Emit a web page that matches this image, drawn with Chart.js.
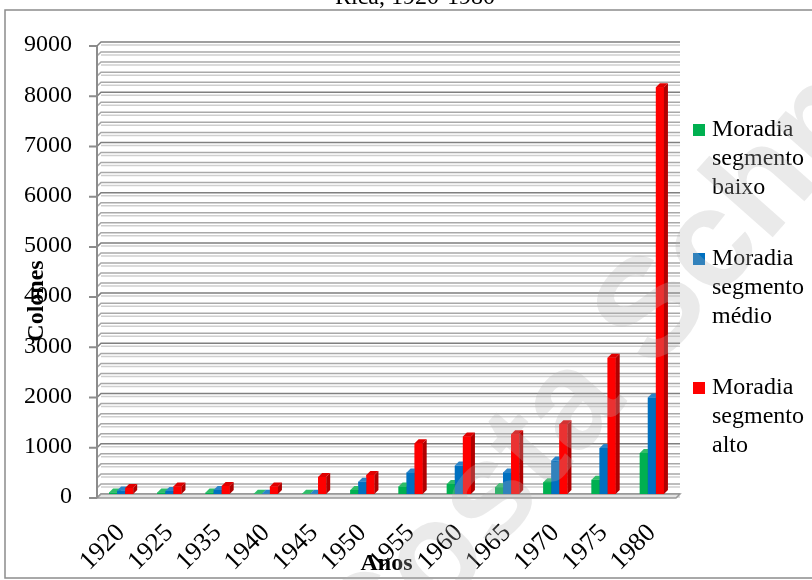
<!DOCTYPE html>
<html>
<head>
<meta charset="utf-8">
<script src="https://cdn.jsdelivr.net/npm/chart.js@4.4.1/dist/chart.umd.min.js"></script>
<style>
html, body { margin: 0; padding: 0; background: #fff; }
#wrap { position: relative; width: 812px; height: 580px; }
</style>
</head>
<body>
<div id="wrap"><canvas id="chart" width="812" height="580"></canvas></div>
<script>
// dados
const anos = ['1920', '1925', '1935', '1940', '1945', '1950', '1955', '1960', '1965', '1970', '1975', '1980'];
const segBaixo = [30, 30, 30, 5, 5, 80, 150, 200, 135, 235, 285, 815];
const segMedio = [70, 60, 80, 5, 5, 245, 430, 565, 430, 665, 915, 1920];
const segAlto = [120, 150, 160, 150, 340, 380, 1010, 1145, 1190, 1390, 2715, 8100];
const nomes = [['Moradia', 'segmento', 'baixo'], ['Moradia', 'segmento', 'médio'], ['Moradia', 'segmento', 'alto']];
const yTicks = [0, 1000, 2000, 3000, 4000, 5000, 6000, 7000, 8000, 9000];

const cores = ['#00b050', '#0070c0', '#ff0000'];
const coresLado = ['#007a38', '#004d86', '#b00000'];
const coresTopo = ['#2ebd68', '#2a84c8', '#e00000'];
const serif = '"Liberation Serif", "Times New Roman", serif';
const D = 4; // profundidade 3D

const frame3d = {
    id: 'frame3d',
    beforeDraw(chart) {
        const ctx = chart.ctx;
        ctx.save();
        ctx.fillStyle = '#fff';
        ctx.fillRect(0, 0, chart.width, chart.height);
        ctx.strokeStyle = '#8c8c8c';
        ctx.lineWidth = 1.5;
        ctx.strokeRect(5, 10, 820, 568);
        ctx.fillStyle = '#000';
        ctx.font = '24px ' + serif;
        ctx.textAlign = 'center';
        ctx.textBaseline = 'alphabetic';
        ctx.fillText('Rica, 1920-1980', 415, 4);
        ctx.restore();
    },
    beforeDatasetsDraw(chart) {
        const ctx = chart.ctx, a = chart.chartArea, ys = chart.scales.y;
        ctx.save();
        ctx.lineWidth = 1.5;
        // linhas de grade com parede ao fundo
        for (let v = 0; v <= 9000; v += 200) {
            const y = ys.getPixelForValue(v);
            const major = v % 1000 === 0;
            ctx.strokeStyle = '#cfcfcf';
            ctx.beginPath();
            ctx.moveTo(a.left + D, y + 3);
            ctx.lineTo(a.right + D, y + 3);
            ctx.stroke();
            ctx.strokeStyle = major ? '#7f7f7f' : '#a8a8a8';
            ctx.beginPath();
            ctx.moveTo(a.left, y + D);
            ctx.lineTo(a.left + D, y);
            ctx.lineTo(a.right + D, y);
            ctx.stroke();
        }
        // piso
        const y0 = ys.getPixelForValue(0);
        ctx.fillStyle = '#e3e3e3';
        ctx.strokeStyle = '#999';
        ctx.beginPath();
        ctx.moveTo(a.left + D, y0);
        ctx.lineTo(a.right + D, y0);
        ctx.lineTo(a.right, y0 + D);
        ctx.lineTo(a.left, y0 + D);
        ctx.closePath();
        ctx.fill();
        ctx.stroke();
        // eixo y e marcas
        ctx.strokeStyle = '#8c8c8c';
        ctx.lineWidth = 2;
        ctx.beginPath();
        ctx.moveTo(a.left, a.top + D);
        ctx.lineTo(a.left, a.bottom + D);
        yTicks.forEach(v => {
            const y = ys.getPixelForValue(v) + D;
            ctx.moveTo(a.left - 8, y);
            ctx.lineTo(a.left, y);
        });
        ctx.stroke();
        ctx.restore();
    },
    afterDatasetsDraw(chart) {
        // redesenha as barras em ordem (baixo, medio, alto) com faces 3D
        const ctx = chart.ctx;
        ctx.save();
        for (let c = 0; c < anos.length; c++) {
            chart.data.datasets.forEach((ds, i) => {
                const bar = chart.getDatasetMeta(i).data[c];
                const p = bar.getProps(['x', 'y', 'base', 'width'], true);
                const x1 = p.x - p.width / 2, x2 = p.x + p.width / 2;
                ctx.fillStyle = cores[i];
                ctx.fillRect(x1, p.y, p.width, p.base - p.y);
                ctx.fillStyle = coresLado[i];
                ctx.beginPath();
                ctx.moveTo(x2, p.y);
                ctx.lineTo(x2 + D, p.y - D);
                ctx.lineTo(x2 + D, p.base - D);
                ctx.lineTo(x2, p.base);
                ctx.closePath();
                ctx.fill();
                ctx.fillStyle = coresTopo[i];
                ctx.beginPath();
                ctx.moveTo(x1, p.y);
                ctx.lineTo(x1 + D, p.y - D);
                ctx.lineTo(x2 + D, p.y - D);
                ctx.lineTo(x2, p.y);
                ctx.closePath();
                ctx.fill();
            });
        }
        ctx.restore();
    },
    afterDraw(chart) {
        const ctx = chart.ctx;
        ctx.save();
        // titulo eixo y
        ctx.fillStyle = '#000';
        ctx.font = 'bold 24px ' + serif;
        ctx.textAlign = 'center';
        ctx.textBaseline = 'middle';
        ctx.translate(37, 301);
        ctx.rotate(-Math.PI / 2);
        ctx.fillText('Colones', 0, 0);
        ctx.restore();

        // legenda
        ctx.save();
        ctx.font = '24px ' + serif;
        ctx.textBaseline = 'middle';
        ctx.textAlign = 'left';
        const cys = [130, 259, 388];
        chart.data.datasets.forEach((ds, k) => {
            ctx.fillStyle = cores[k];
            ctx.fillRect(693, cys[k] - 6, 12, 12);
            ctx.fillStyle = '#000';
            nomes[k].forEach((t, j) => ctx.fillText(t, 712, cys[k] + j * 29));
        });
        ctx.restore();

        // marca d'agua
        ctx.save();
        const fs = 140;
        ctx.font = 'bold ' + fs + 'px "Liberation Sans", Arial, sans-serif';
        ctx.fillStyle = 'rgba(180,180,180,0.28)';
        ctx.textBaseline = 'alphabetic';
        ctx.textAlign = 'left';
        ctx.translate(438, 562);
        ctx.rotate(-48.6 * Math.PI / 180);
        const x0 = -(ctx.measureText('C').width + ctx.measureText('o').width / 2);
        ctx.fillText('Costa Schm', x0, fs * 0.26);
        ctx.restore();
    }
};

const ctx = document.getElementById('chart').getContext('2d');
const chart = new Chart(ctx, {
    type: 'bar',
    data: {
        labels: anos,
        datasets: [
            { label: nomes[0].join(' '), data: segBaixo, backgroundColor: cores[0] },
            { label: nomes[1].join(' '), data: segMedio, backgroundColor: cores[1] },
            { label: nomes[2].join(' '), data: segAlto, backgroundColor: cores[2] }
        ]
    },
    options: {
        responsive: false,
        animation: false,
        layout: { padding: { top: 42, right: 136, left: 0, bottom: 0 } },
        datasets: { bar: { categoryPercentage: 0.5, barPercentage: 1.0 } },
        plugins: { legend: { display: false }, tooltip: { enabled: false }, title: { display: false } },
        scales: {
            x: {
                grid: { display: false, drawTicks: false },
                border: { display: false },
                ticks: { color: '#000', font: { family: serif, size: 26 }, minRotation: 45, maxRotation: 45, autoSkip: false, padding: 24, labelOffset: 0 },
                title: { display: true, text: 'Anos', color: '#000', font: { family: serif, size: 24, weight: 'bold' }, padding: { top: 0, bottom: 2 } },
                afterFit: s => { s.height = 86; }
            },
            y: {
                min: 0,
                max: 9000,
                grid: { display: false, drawTicks: false },
                border: { display: false },
                ticks: {
                    stepSize: 1000,
                    color: '#000',
                    font: { family: serif, size: 24 },
                    padding: 25,
                    labelOffset: 3,
                    callback: v => String(v)
                },
                afterFit: s => { s.width = 97; }
            }
        }
    },
    plugins: [frame3d]
});
</script>
</body>
</html>
